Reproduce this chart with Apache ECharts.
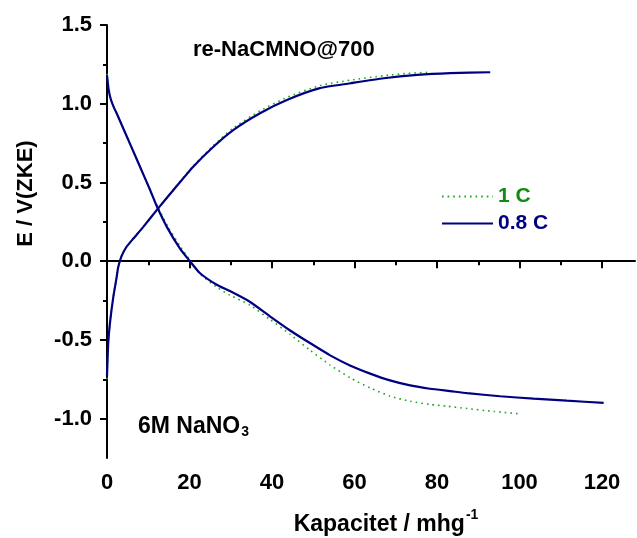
<!DOCTYPE html>
<html>
<head>
<meta charset="utf-8">
<script src="https://cdn.jsdelivr.net/npm/echarts@6/dist/echarts.min.js"></script>
<style>html,body{margin:0;padding:0;background:#fff;}#c{width:637px;height:538px;}</style>
</head>
<body>
<div id="c"></div>
<script>
// ---- data (capacity in mAh/g, potential in V vs ZKE) ----
var charge08Cap = [0, 0.3, 0.73, 1.53, 2.35, 2.7, 3.5, 4.7, 6.4, 8.8, 12.05, 16.1, 20.9, 25.8, 30.6, 37.1, 43.6, 51.6, 59, 67.1, 75.2, 83.2, 92.9];
var charge08E   = [-0.73, -0.52, -0.39, -0.227, -0.10, -0.04, 0.03, 0.09, 0.144, 0.218, 0.324, 0.452, 0.60, 0.727, 0.833, 0.94, 1.024, 1.099, 1.13, 1.162, 1.183, 1.194, 1.20];
var discharge08Cap = [0, 0.4, 0.9, 1.53, 2.5, 3.5, 5.58, 8.0, 10.4, 12.05, 14.5, 17.7, 20.1, 22.5, 26.6, 29.8, 34.7, 39.5, 44.4, 49.2, 54.1, 58.9, 63.8, 68.6, 73.5, 78.3, 83.2, 87.3, 95.3, 103.4, 111.5, 120.4];
var discharge08E   = [1.18, 1.09, 1.03, 0.985, 0.93, 0.87, 0.745, 0.60, 0.455, 0.35, 0.218, 0.08, 0.0, -0.075, -0.15, -0.19, -0.259, -0.35, -0.44, -0.52, -0.598, -0.662, -0.714, -0.757, -0.789, -0.81, -0.825, -0.838, -0.858, -0.873, -0.886, -0.90];
var charge1Cap = [0, 0.3, 0.73, 1.53, 2.35, 2.7, 3.5, 4.7, 6.4, 8.8, 12.05, 16.1, 20.9, 25.8, 30.6, 37.1, 43.6, 51.6, 59, 67.1, 73, 78.4];
var charge1E   = [-0.75, -0.52, -0.39, -0.227, -0.10, -0.04, 0.03, 0.09, 0.144, 0.218, 0.324, 0.455, 0.605, 0.735, 0.845, 0.955, 1.04, 1.115, 1.15, 1.178, 1.193, 1.20];
var discharge1Cap = [0, 0.4, 0.9, 1.53, 2.5, 3.5, 5.58, 8.0, 10.4, 12.3, 14.8, 18.0, 20.3, 22.7, 26.6, 29.8, 34.7, 39.5, 44.4, 49.2, 54.1, 58.9, 63.8, 68.6, 73.5, 78.3, 82.4, 87.0, 94.0, 100.2];
var discharge1E   = [1.19, 1.09, 1.03, 0.985, 0.93, 0.87, 0.745, 0.60, 0.455, 0.345, 0.218, 0.085, 0.0, -0.085, -0.165, -0.216, -0.28, -0.37, -0.465, -0.565, -0.66, -0.74, -0.805, -0.857, -0.89, -0.91, -0.921, -0.935, -0.955, -0.97];
var seriesNames = ['1 C', '0.8 C'];
var xMajorTicks = [0, 20, 40, 60, 80, 100, 120];
var xMinorTicks = [10, 30, 50, 70, 90, 110];
var yMajorTicks = [-1.0, -0.5, 0.0, 0.5, 1.0, 1.5];
var yMinorTicks = [-0.75, -0.25, 0.25, 0.75, 1.25];

function zip(a, b) { return a.map(function (v, i) { return [v, b[i]]; }); }

var FONT = '"Liberation Sans", Arial, sans-serif';
var GREEN = '#22a622';
var NAVY = '#000080';

var chart = echarts.init(document.getElementById('c'), null, {renderer: 'canvas'});
var greenLine = {color: GREEN, width: 1.6, type: [1.6, 4]};
var navyLine = {color: NAVY, width: 2.2, type: 'solid'};

function lineSeries(name, cap, e, ls, color, z) {
  return {
    name: name, type: 'line', symbol: 'none', showSymbol: false,
    smooth: 0.2,
    data: zip(cap, e), lineStyle: ls, itemStyle: {color: color}, z: z
  };
}

chart.setOption({
  animation: false,
  backgroundColor: '#fff',
  grid: {left: 107, right: 2, top: 25, bottom: 80, containLabel: false, outerBoundsMode: 'none'},
  legend: {
    orient: 'vertical', left: 436, top: 181, itemWidth: 51, itemHeight: 10, itemGap: 6,
    itemStyle: {opacity: 0},
    textStyle: {fontFamily: FONT, fontSize: 21, fontWeight: 'bold'},
    data: [
      {name: seriesNames[0], textStyle: {color: '#138a13'}},
      {name: seriesNames[1], textStyle: {color: NAVY}}
    ]
  },
  xAxis: [{
    type: 'value', min: 0, max: 128, position: 'bottom',
    name: '{a|Kapacitet / mhg}{b|-1}', nameLocation: 'middle', nameGap: 50,
    nameTextStyle: {padding: [0, 0, 0, 30], rich: {
      a: {fontFamily: FONT, fontSize: 23, fontWeight: 'bold', color: '#000'},
      b: {fontFamily: FONT, fontSize: 14, fontWeight: 'bold', color: '#000', padding: [0, 0, 20, 1]}
    }},
    axisLine: {show: true, lineStyle: {color: '#000', width: 2}},
    axisTick: {show: true, inside: false, length: 7, lineStyle: {color: '#000', width: 2}, customValues: xMajorTicks},
    axisLabel: {show: true, margin: 14, customValues: xMajorTicks, fontFamily: FONT, fontSize: 22, fontWeight: 'bold', color: '#000'},
    splitLine: {show: false}
  }, {
    type: 'value', min: 0, max: 128, position: 'bottom',
    axisLine: {show: false},
    axisTick: {show: true, inside: false, length: 4, lineStyle: {color: '#000', width: 2}, customValues: xMinorTicks},
    axisLabel: {show: false},
    splitLine: {show: false}
  }],
  yAxis: [{
    type: 'value', min: -1.25, max: 1.5, position: 'left',
    name: 'E / V(ZKE)', nameLocation: 'middle', nameGap: 70,
    nameTextStyle: {fontFamily: FONT, fontSize: 22, fontWeight: 'bold', color: '#000', padding: [0, 0, 0, 96]},
    axisLine: {show: true, lineStyle: {color: '#000', width: 2}},
    axisTick: {show: true, inside: false, length: 7, lineStyle: {color: '#000', width: 2}, customValues: yMajorTicks},
    axisLabel: {show: true, margin: 15, customValues: yMajorTicks, fontFamily: FONT, fontSize: 22, fontWeight: 'bold', color: '#000',
      formatter: function (v) { return v.toFixed(1); }},
    splitLine: {show: false}
  }, {
    type: 'value', min: -1.25, max: 1.5, position: 'left',
    axisLine: {show: false},
    axisTick: {show: true, inside: false, length: 4, lineStyle: {color: '#000', width: 2}, customValues: yMinorTicks},
    axisLabel: {show: false},
    splitLine: {show: false}
  }],
  graphic: [
    {type: 'text', left: 193, top: 39, style: {text: 're-NaCMNO@700', font: 'bold 22px ' + FONT, fill: '#000'}},
    {type: 'text', left: 138, top: 415, style: {
      text: '{a|6M NaNO}{b|3}',
      rich: {
        a: {fontFamily: FONT, fontSize: 23, fontWeight: 'bold', fill: '#000'},
        b: {fontFamily: FONT, fontSize: 14, fontWeight: 'bold', fill: '#000', padding: [12, 0, 0, 1]}
      }
    }}
  ],
  series: [
    lineSeries(seriesNames[0], charge1Cap, charge1E, greenLine, GREEN, 2),
    lineSeries(seriesNames[0], discharge1Cap, discharge1E, greenLine, GREEN, 2),
    lineSeries(seriesNames[1], charge08Cap, charge08E, navyLine, NAVY, 3),
    lineSeries(seriesNames[1], discharge08Cap, discharge08E, navyLine, NAVY, 3)
  ]
});
</script>
</body>
</html>
